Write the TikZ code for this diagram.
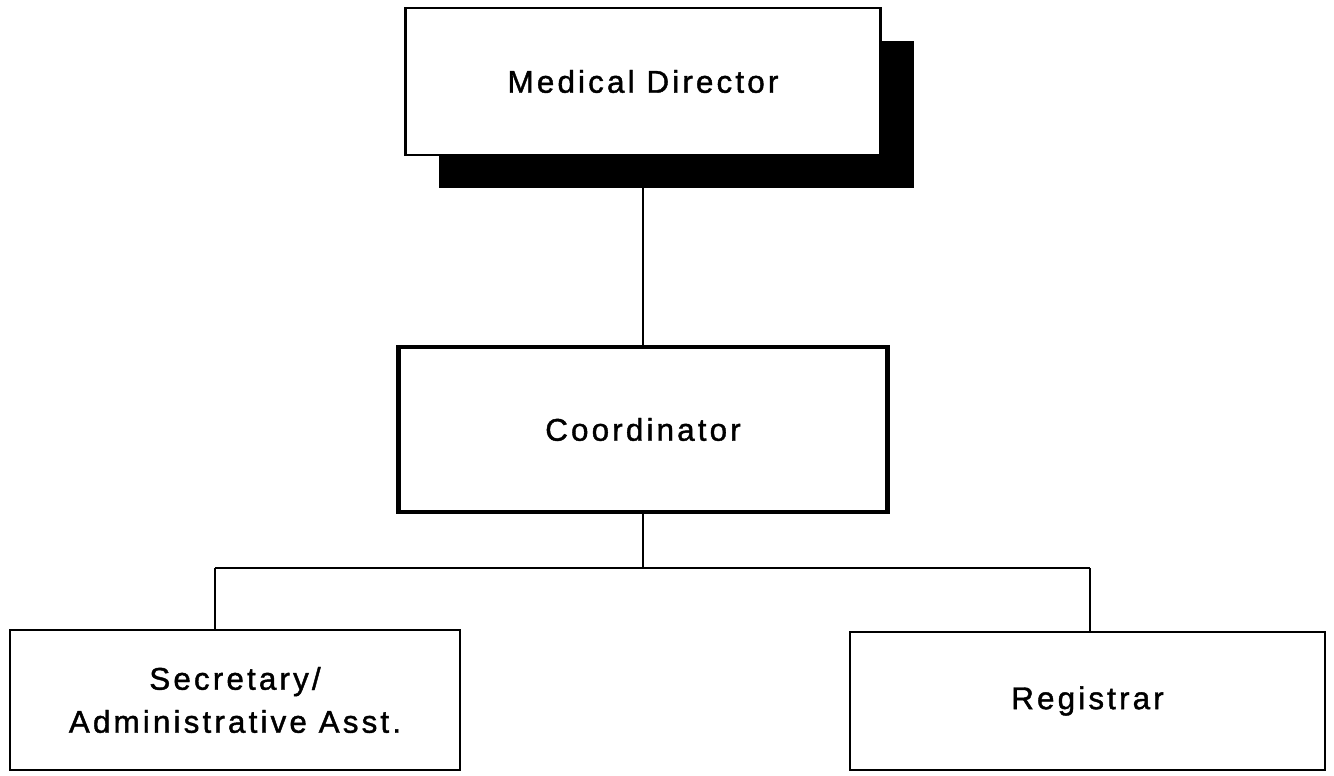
\documentclass[tikz,border=0pt]{standalone}
\usepackage{fontspec}
\newfontfamily\orgfont[LetterSpace=10,FakeBold=1.3]{Liberation Sans}
\usetikzlibrary{shadows}

\begin{document}
\begin{tikzpicture}[x=0.5pt,y=-0.5pt,
    post/.style={draw,fill=white,line width=1.1pt,align=center,
      inner sep=0pt,font=\orgfont\fontsize{15.7}{21.5}\selectfont},
    link/.style={line width=0.8pt}]
    \useasboundingbox (0,0) rectangle (1334,776);
    \node[post,minimum width=237.5pt,minimum height=73.5pt,
      drop shadow={shadow xshift=16.5pt,shadow yshift=-16.5pt,fill=black,opacity=1}]
      (director) at (643,81.5) {Medical Director};
    \node[post,line width=2.2pt,minimum width=244.5pt,minimum height=82.5pt]
      (coord) at (643,429.5) {Coordinator};
    \node[post,minimum width=225pt,minimum height=70pt]
      (secretary) at (235,700) {Secretary/\\Administrative Asst.};
    \node[post,minimum width=237.5pt,minimum height=69pt]
      (registrar) at (1087.5,701) {Registrar};
    \coordinate (split) at (643,568);
    \coordinate (lft) at (215,568);
    \coordinate (rgt) at (1090,568);
    \draw[link] (director.south) -- (coord.north);
    \draw[link] (coord.south) -- (split);
    \draw[link] (lft) -- (rgt);
    \draw[link] (lft) -- (lft |- secretary.north);
    \draw[link] (rgt) -- (rgt |- registrar.north);
  \end{tikzpicture}
\end{document}
